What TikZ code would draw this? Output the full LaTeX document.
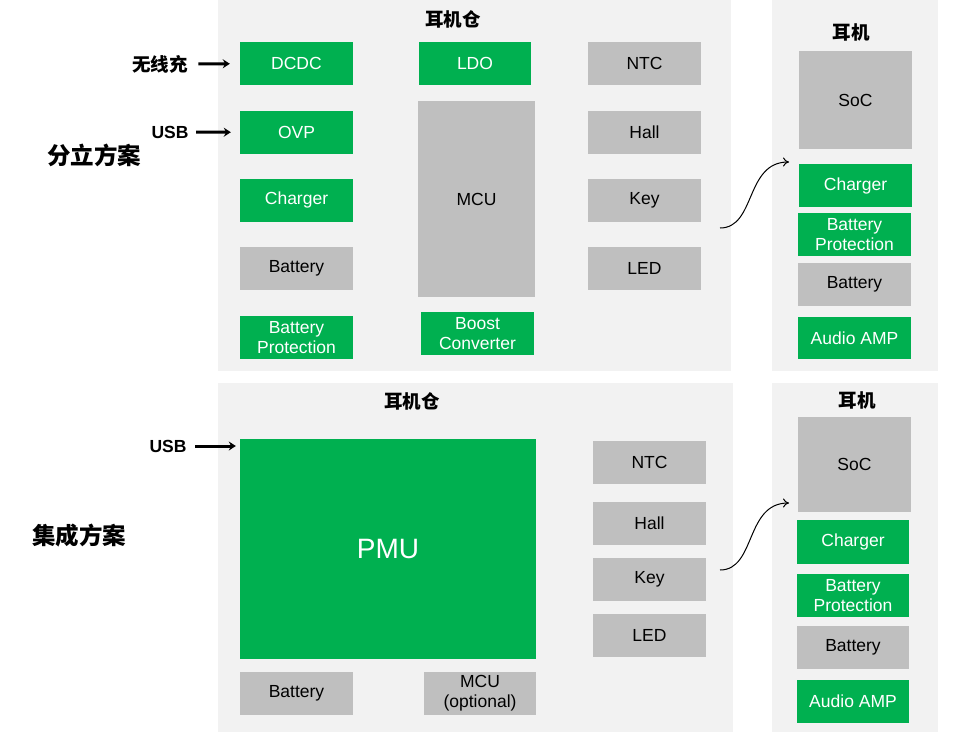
\documentclass[tikz,border=0pt]{standalone}
\usepackage{fontspec}
\setmainfont{Liberation Sans}
\newfontfamily\cjk{Noto Sans CJK SC}
\usetikzlibrary{arrows.meta}
\definecolor{boxgreen}{HTML}{00B050}
\definecolor{boxgray}{HTML}{BFBFBF}
\definecolor{panelgray}{HTML}{F2F2F2}
\tikzset{
  blk/.style={inner sep=0pt, minimum width=113, minimum height=43, align=center,
    font=\fontsize{17.5}{20}\selectfont},
  gblk/.style={blk, fill=boxgreen, text=white},
  hblk/.style={blk, fill=boxgray, text=black},
  title/.style={font=\cjk\bfseries\fontsize{18.5}{20}\selectfont},
  bigtitle/.style={font=\cjk\bfseries\fontsize{23.5}{25}\selectfont},
  feed/.style={line width=3pt, -{Stealth[length=7pt,width=9pt]}},
  hop/.style={line width=1pt, -{To[length=6pt,width=9pt]}}
}
\begin{document}
\begin{tikzpicture}[x=1pt,y=-1pt]
	\useasboundingbox (0,0) rectangle (964,732);
	%%%%% PANELS %%%%%
	\fill[panelgray] (218,0) rectangle (731,371);
	\fill[panelgray] (772,0) rectangle (938,371);
	\fill[panelgray] (218,383) rectangle (733,732);
	\fill[panelgray] (772,383) rectangle (938,732);
	
	%%%%% 分立方案 %%%%%
	\node[bigtitle] (fenli) at (94,155) {分立方案};
	\node[title] (case1) at (453,19) {耳机仓};
	\node[title] (bud1) at (851,32) {耳机};
	
	\node[title] (wlc) at (160,64) {无线充};
	\node[font=\bfseries\fontsize{17.5}{20}\selectfont] (usb1) at (170,132) {USB};
	
	\node[gblk] (dcdc) at (296.5,63.5) {DCDC};
	\node[gblk] (ovp) at (296.5,132.5) {OVP};
	\node[gblk] (chg1) at (296.5,200) {Charger};
	\node[hblk] (bat1) at (296.5,268.5) {Battery};
	\node[gblk] (prot1) at (296.5,337.5) {Battery\\Protection};
	
	\node[gblk, minimum width=112] (ldo) at (475,63.5) {LDO};
	\node[hblk, minimum width=117, minimum height=196] (mcu) at (476.5,199) {MCU};
	\node[gblk] (boost) at (477.5,333.5) {Boost\\Converter};
	
	\node[hblk] (ntc1) at (644.5,63.5) {NTC};
	\node[hblk] (hall1) at (644.5,132.5) {Hall};
	\node[hblk] (key1) at (644.5,200.5) {Key};
	\node[hblk] (led1) at (644.5,268.5) {LED};
	
	\node[hblk, minimum height=98] (soc1) at (855.5,100) {SoC};
	\node[gblk] (chg2) at (855.5,185.5) {Charger};
	\node[gblk] (prot2) at (854.5,234.5) {Battery\\Protection};
	\node[hblk] (bat2) at (854.5,284) {Battery};
	\node[gblk, minimum height=42] (amp1) at (854.5,338) {Audio AMP};
	
	\draw[feed, shorten <=7pt, shorten >=10pt] (wlc) -- (dcdc);
	\draw[feed, shorten <=4pt, shorten >=9pt] (usb1) -- (ovp);
	\coordinate (k1) at (720,228);
	\coordinate (s1) at (789,162);
	\draw[hop] (k1) .. controls (756,228) and (745,162) .. (s1);
	
	%%%%% 集成方案 %%%%%
	\node[bigtitle] (jicheng) at (79,536) {集成方案};
	\node[title] (case2) at (412,401) {耳机仓};
	\node[title] (bud2) at (857,400) {耳机};
	
	\node[font=\bfseries\fontsize{17.5}{20}\selectfont] (usb2) at (168,446) {USB};
	
	\node[gblk, minimum width=296, minimum height=220, font=\fontsize{28}{30}\selectfont] (pmu) at (388,549) {PMU};
	\draw[feed, shorten <=5pt, shorten >=4pt] (usb2) -- (usb2 -| pmu.west);
	\node[hblk] (bat3) at (296.5,693.5) {Battery};
	\node[hblk, minimum width=112] (mcu2) at (480,693.5) {MCU\\(optional)};
	
	\node[hblk] (ntc2) at (649.5,462.5) {NTC};
	\node[hblk] (hall2) at (649.5,523.5) {Hall};
	\node[hblk] (key2) at (649.5,579.5) {Key};
	\node[hblk] (led2) at (649.5,635.5) {LED};
	
	\node[hblk, minimum height=95] (soc2) at (854.5,464.5) {SoC};
	\node[gblk, minimum width=112, minimum height=44] (chg3) at (853,542) {Charger};
	\node[gblk, minimum width=112] (prot3) at (853,595.5) {Battery\\Protection};
	\node[hblk, minimum width=112] (bat4) at (853,647.5) {Battery};
	\node[gblk, minimum width=112] (amp2) at (853,701.5) {Audio AMP};
	
	\coordinate (k2) at (720,570);
	\coordinate (s2) at (789,503);
	\draw[hop] (k2) .. controls (756,570) and (745,503) .. (s2);
\end{tikzpicture}
\end{document}
